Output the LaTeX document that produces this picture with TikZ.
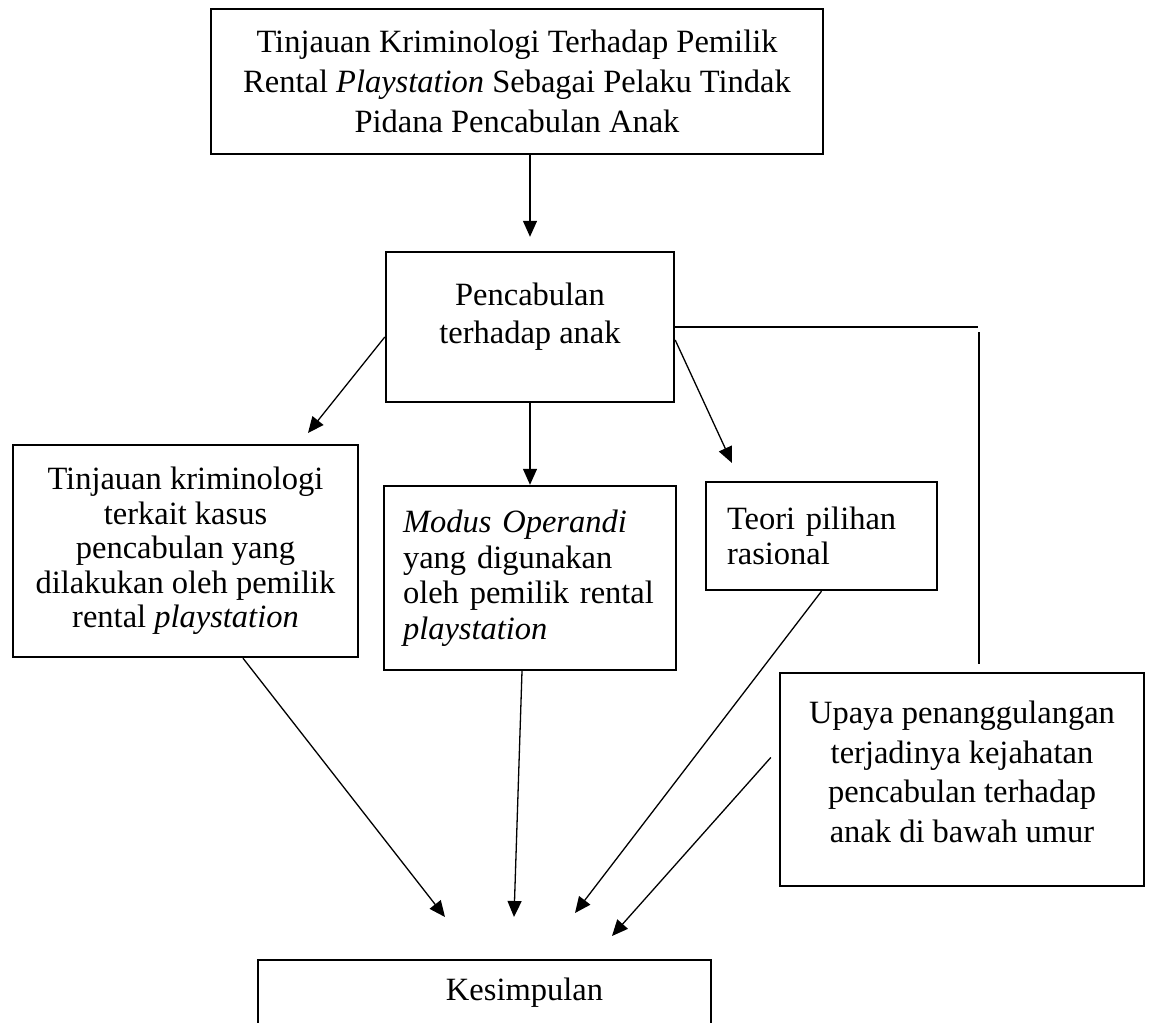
\documentclass[tikz,border=0pt]{standalone}
\usepackage{fontspec}
\setmainfont{Liberation Serif}
\usetikzlibrary{arrows.meta}
\begin{document}
\begin{tikzpicture}[x=1pt,y=-1pt,
  kotak/.style={draw,line width=2.4pt,rectangle,inner sep=0pt,align=center},
  huruf/.style={font=\fontsize{32.5}{#1}\selectfont},
  garis/.style={line width=1.3pt},
  panah/.style={garis,-{Triangle[length=16pt,width=14pt]}}]
\clip (0,0) rectangle (1152,1023);
% kotak judul dan kotak utama
\node[kotak,huruf=40,minimum width=612pt,minimum height=145pt] (judul) at (517,81.5)
  {Tinjauan Kriminologi Terhadap Pemilik\\Rental \textit{Playstation} Sebagai Pelaku Tindak\\Pidana Pencabulan Anak};
\node[kotak,huruf=38,minimum width=288pt,minimum height=150pt,text depth=28pt] (pencab) at (530,327)
  {Pencabulan\\terhadap anak};
% kotak tengah
\node[kotak,huruf=34.5,minimum width=345pt,minimum height=212pt] (tinjau) at (185.5,551)
  {Tinjauan kriminologi\\terkait kasus\\pencabulan yang\\dilakukan oleh pemilik\\rental \textit{playstation}};
\node[kotak,huruf=35.5,align=left,text width=254pt,inner xsep=19pt,minimum height=184pt] (modus) at (530,578)
  {\textit{Modus Operandi}\\yang digunakan\\oleh pemilik rental\\\textit{playstation}};
\node[kotak,huruf=35,align=left,text width=189pt,inner xsep=21pt,minimum height=108pt] (teori) at (821.5,536)
  {Teori pilihan\\rasional};
\node[kotak,huruf=39.5,minimum width=364pt,minimum height=213pt,text depth=16pt] (upaya) at (962,779.5)
  {Upaya penanggulangan\\terjadinya kejahatan\\pencabulan terhadap\\anak di bawah umur};
% kotak kesimpulan (terpotong di bawah)
\node[kotak,huruf=40,minimum width=453pt,inner ysep=18pt,text depth=45pt,anchor=north] (simpul) at (484.5,959)
  {\hspace*{80pt}Kesimpulan};
% ujung panah
\coordinate (tA) at (308,433);
\coordinate (tB) at (732,463);
\coordinate (kA) at (978,327);
\coordinate (kB) at (979,332);
\coordinate (s1) at (445,917);
\coordinate (s2) at (514,917);
\coordinate (s3) at (575,913);
\coordinate (s4) at (612,936);
% panah
\draw[panah,shorten >=14pt] (judul.south -| pencab.north) -- (pencab.north);
\draw[panah] ([yshift=-10pt]pencab.west) -- (tA);
\draw[panah] (pencab.south) -- (modus.north);
\draw[panah] ([yshift=-13pt]pencab.east) -- (tB);
\draw[garis] (pencab.east) -- (kA);
\draw[garis,shorten >=8pt] (kB) -- (kB |- upaya.north);
\draw[panah] ([xshift=57.5pt]tinjau.south) -- (s1);
\draw[panah] ([xshift=-8pt]modus.south) -- (s2);
\draw[panah] (teori.south) -- (s3);
\draw[panah] ([xshift=-8pt,yshift=22pt]upaya.west) -- (s4);
\end{tikzpicture}
\end{document}
